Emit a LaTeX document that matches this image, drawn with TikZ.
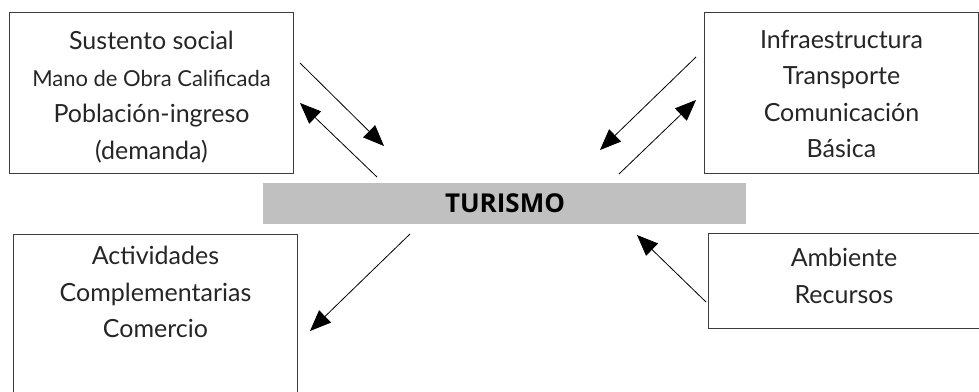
\documentclass[tikz,border=0pt]{standalone}
\usepackage{fontspec}
\setmainfont{Lato}
\newfontfamily\boldfont{Open Sans}
\usetikzlibrary{arrows.meta}
\definecolor{bargray}{RGB}{192,192,192}
\definecolor{boxline}{RGB}{60,60,60}
\begin{document}
\begin{tikzpicture}[x=1pt,y=-1pt,
  box/.style={draw=boxline, line width=1pt, rectangle, inner sep=0pt, anchor=north west},
  txt/.style={align=center, font=\fontsize{25}{36.5}\selectfont, inner sep=0pt, text=black!85},
  conn/.style={line width=0.8pt, -{Triangle[length=21pt,width=17pt]}}]
\useasboundingbox (0,0) rectangle (979,391);
% boxes
\node[box, minimum width=284pt, minimum height=161pt] (b1) at (9,12) {};
\node[box, minimum width=274pt, minimum height=161pt] (b2) at (704,12) {};
\node[box, minimum width=284pt, minimum height=170pt] (b3) at (13,234) {};
\node[box, minimum width=271pt, minimum height=95pt] (b4) at (708,233) {};
\node[fill=bargray, inner sep=0pt, minimum width=483pt, minimum height=41pt, anchor=north west] (tur) at (263,183) {};
% texts
\node[txt] (t1) at ([yshift=-4]b1.center) {Sustento social\\{\fontsize{22}{36.5}\selectfont Mano de Obra Calificada}\\Población-ingreso\\(demanda)};
\node[txt] (t2) at ([yshift=-1]b2.center) {Infraestructura\\Transporte\\Comunicación\\Básica};
\node[txt, anchor=north] (t3) at ([yshift=-12]b3.north) {Actividades\\Complementarias\\Comercio};
\node[txt] (t4) at ([yshift=5]b4.center) {Ambiente\\Recursos};
\node[font=\boldfont\bfseries\fontsize{26}{30}\selectfont, inner sep=0pt] (tt) at (505,203) {TURISMO};
% arrow endpoints
\coordinate (a1s) at (300,63);  \coordinate (a1e) at (384,146);
\coordinate (a2s) at (377,177); \coordinate (a2e) at (300,103);
\coordinate (a3s) at (696,57);  \coordinate (a3e) at (600,150);
\coordinate (a4s) at (619,174); \coordinate (a4e) at (696,100);
\coordinate (a5s) at (410,234); \coordinate (a5e) at (310,331);
\coordinate (a6s) at (706,302); \coordinate (a6e) at (637,235);
\draw[conn] (a1s) -- (a1e);
\draw[conn] (a2s) -- (a2e);
\draw[conn] (a3s) -- (a3e);
\draw[conn] (a4s) -- (a4e);
\draw[conn] (a5s) -- (a5e);
\draw[conn] (a6s) -- (a6e);
\end{tikzpicture}
\end{document}
